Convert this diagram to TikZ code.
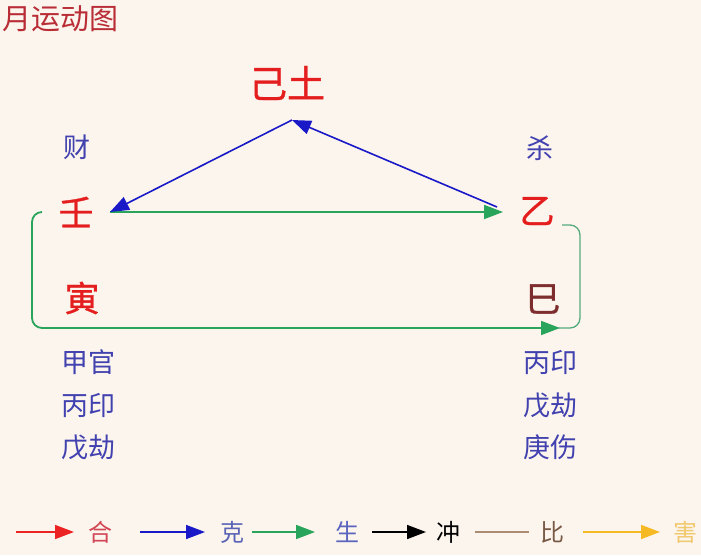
\documentclass[tikz,border=0pt]{standalone}
\usepackage{fontspec}
\usetikzlibrary{arrows.meta}
\newfontfamily\cjk{Noto Sans CJK SC}
\newfontfamily\cjkheavy[FakeBold=1]{Noto Sans CJK SC}
\definecolor{paper}{RGB}{252,245,237}
\definecolor{titlered}{RGB}{185,45,55}
\definecolor{stemred}{RGB}{228,30,30}
\definecolor{branchbrown}{RGB}{125,45,45}
\definecolor{godblue}{RGB}{65,65,175}
\definecolor{keblue}{RGB}{25,25,200}
\definecolor{shenggreen}{RGB}{40,165,90}
\definecolor{bracketgreen}{RGB}{85,170,125}
\definecolor{hered}{RGB}{235,35,35}
\definecolor{bitan}{RGB}{170,140,115}
\definecolor{haiyellow}{RGB}{245,185,35}

\begin{document}
\begin{tikzpicture}[x=1pt, y=-1pt,
    stem/.style={font=\cjkheavy\fontsize{35}{35}\selectfont, text=stemred, inner sep=0pt},
    god/.style={font=\cjk\fontsize{27}{27}\selectfont, text=godblue, inner sep=0pt},
    key/.style={font=\cjk\fontsize{24}{24}\selectfont, inner sep=0pt},
    tip/.style={-{Triangle[length=19pt,width=14pt]}},
    ke/.style={tip, keblue, line width=1.6pt},
    sheng/.style={tip, shenggreen, line width=1.8pt},
    bracket/.style={bracketgreen, line width=1.3pt, rounded corners=10pt}
]
\useasboundingbox (0,0) rectangle (701,555);
\fill[paper] (0,0) rectangle (701,555);
% Title
\node[font=\cjk\fontsize{29}{29}\selectfont, text=titlered, inner sep=0pt] (title) at (60,19) {月运动图};
% Stems and branches
\node[stem, font=\cjkheavy\fontsize{38}{38}\selectfont] (ji) at (287,83) {己土};
\node[stem] (ren) at (76,212) {壬};
\node[stem] (yi) at (537,211) {乙};
\node[stem] (yin) at (82,298) {寅};
\node[stem, text=branchbrown] (si) at (543,299) {巳};
% Ten gods
\node[god] (cai) at (77,147) {财};
\node[god] (sha) at (540,148) {杀};
% Hidden stems of yin
\node[god] (jiaguan) at (88,362) {甲官};
\node[god] (bingyinL) at (88,405) {丙印};
\node[god] (wujieL) at (88,447) {戊劫};
% Hidden stems of si
\node[god] (bingyinR) at (550,362) {丙印};
\node[god] (wujieR) at (550,405) {戊劫};
\node[god] (gengshang) at (550,447) {庚伤};
% Arrows
\draw[sheng] ([xshift=34pt]ren.center) -- ([xshift=-34pt,yshift=-1pt]yi.center);
\draw[sheng, rounded corners=10pt] ([xshift=-34pt]ren.center) -- ([xshift=-44pt]ren.center)
    |- ([xshift=17pt,yshift=-29pt]si.center);
\draw[bracket] ([xshift=25pt,yshift=-14pt]yi.center) -- ([xshift=43pt,yshift=-14pt]yi.center)
    |- ([xshift=15pt,yshift=-29pt]si.center);
\draw[ke] ([xshift=5pt,yshift=-37pt]ji.center) -- ([xshift=34pt]ren.center);
\draw[ke] ([xshift=-40pt,yshift=4pt]yi.center) -- ([xshift=5pt,yshift=-37pt]ji.center);
% Legend
\node[key, text={rgb,255:red,210;green,70;blue,85}] (he) at (100,532) {合};
\node[key, text={rgb,255:red,90;green,100;blue,180}] (kekey) at (232,532) {克};
\node[key, text={rgb,255:red,90;green,100;blue,190}] (shengkey) at (347,532) {生};
\node[key, text=black] (chong) at (448,532) {冲};
\node[key, text={rgb,255:red,120;green,90;blue,70}] (bi) at (552,532) {比};
\node[key, text={rgb,255:red,240;green,200;blue,110}] (hai) at (685,532) {害};
\draw[tip, hered, line width=1.6pt] ([xshift=-84pt]he.center) -- ([xshift=-26pt]he.center);
\draw[ke] ([xshift=-92pt]kekey.center) -- ([xshift=-27pt]kekey.center);
\draw[sheng] ([xshift=-95pt]shengkey.center) -- ([xshift=-32pt]shengkey.center);
\draw[tip, black, line width=1.6pt] ([xshift=-76pt]chong.center) -- ([xshift=-22pt]chong.center);
\draw[bitan, line width=1.6pt] ([xshift=-77pt]bi.center) -- ([xshift=-23pt]bi.center);
\draw[tip, haiyellow, line width=1.6pt] ([xshift=-102pt]hai.center) -- ([xshift=-25pt]hai.center);
\end{tikzpicture}
\end{document}
